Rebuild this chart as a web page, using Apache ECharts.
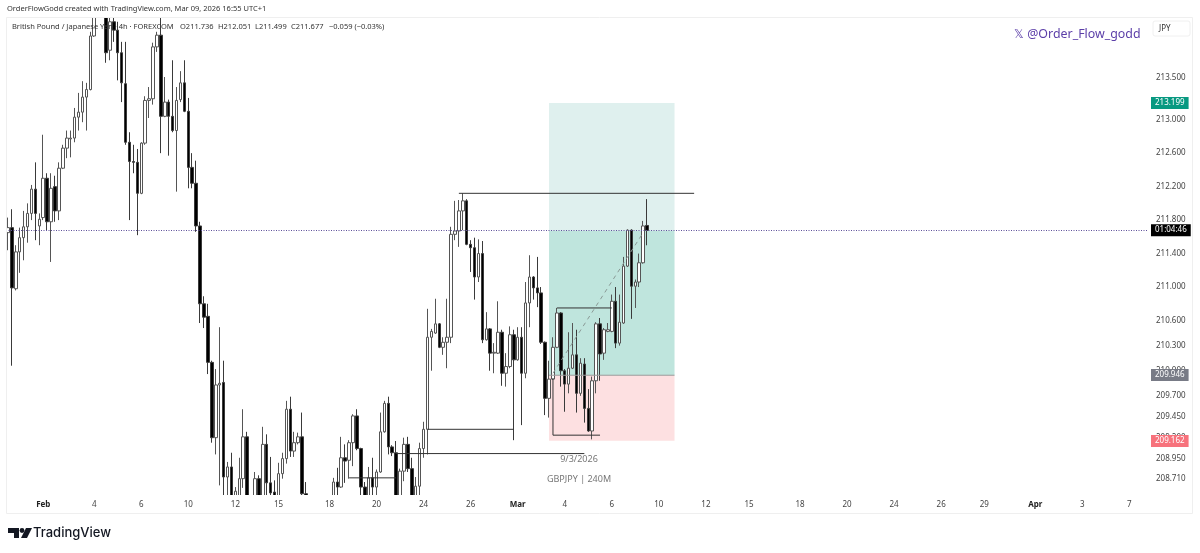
<!DOCTYPE html>
<html>
<head>
<meta charset="utf-8">
<title>GBPJPY 4h</title>
<script src="https://cdn.jsdelivr.net/npm/echarts@6/dist/echarts.min.js"></script>
<style>
  html, body { margin: 0; padding: 0; background: #fff; }
  #chart { width: 1200px; height: 553px; }
</style>
</head>
<body>
<div id="chart"></div>
<script>
// candles: open, close, low, high (some run outside the visible range)
var opens = [211.65,211.71,210.98,211.42,211.59,211.72,211.88,212.17,211.73,211.83,212.30,211.78,212.20,211.91,212.42,212.66,212.77,212.78,213.03,213.09,213.27,213.36,214.00,214.26,214.42,214.29,213.83,214.17,214.07,213.80,213.43,212.73,212.50,212.49,212.12,212.72,213.23,213.25,213.87,214.01,213.04,213.21,213.04,212.87,213.24,213.44,213.10,212.43,212.24,211.73,210.80,210.65,210.10,209.20,209.83,209.86,208.73,208.85,208.42,208.50,208.71,209.21,208.45,208.30,208.71,208.40,209.12,208.66,208.55,208.48,208.77,208.95,209.54,209.04,209.14,209.21,208.53,208.49,208.30,208.20,208.10,208.22,208.30,208.45,208.67,208.61,208.96,208.93,209.14,209.46,209.07,208.61,208.46,208.72,208.61,208.79,209.27,209.61,209.09,209.02,208.46,208.80,209.12,208.83,208.46,208.62,209.07,209.30,210.40,210.45,210.56,210.28,210.34,210.40,211.63,211.67,211.91,212.03,211.51,211.47,211.12,211.40,210.37,210.50,210.21,210.21,210.46,209.97,210.05,210.43,210.13,210.40,209.97,210.81,211.12,210.99,210.93,210.34,209.67,209.90,210.28,210.69,210.00,209.84,210.03,210.19,209.73,210.08,209.55,209.28,209.88,210.56,210.21,210.47,210.47,210.83,210.33,210.57,211.25,211.68,211.01,211.06,211.29,211.736];
var closes = [211.71,210.99,211.42,211.59,211.72,211.88,212.17,211.88,211.81,212.30,211.78,212.18,211.91,212.42,212.66,212.78,212.78,213.03,213.09,213.27,213.36,214.00,214.26,214.42,214.29,213.80,214.17,214.07,213.80,213.44,212.73,212.50,212.49,212.12,212.72,213.23,213.25,213.87,214.01,213.04,213.21,213.04,212.87,213.23,213.44,213.10,212.43,212.24,211.73,210.80,210.64,210.10,209.20,209.83,209.85,208.73,208.85,208.42,208.56,208.71,209.21,208.45,208.30,208.71,208.40,209.12,208.66,208.54,208.48,208.77,208.95,209.54,209.04,209.14,209.21,208.53,208.49,208.30,208.20,208.10,208.22,208.30,208.45,208.67,208.61,208.96,208.92,209.14,209.46,209.07,208.61,208.46,208.72,208.61,208.79,209.27,209.61,209.09,209.02,208.46,208.80,209.12,208.83,208.46,208.62,209.07,209.30,210.40,210.47,210.56,210.28,210.34,210.40,211.63,211.67,211.91,212.03,211.51,211.47,211.12,211.40,210.37,210.50,210.21,210.22,210.46,209.97,210.05,210.43,210.13,210.40,209.97,210.81,211.12,210.99,210.93,210.34,209.67,209.90,210.28,210.69,210.00,209.84,210.03,210.19,209.73,210.09,209.55,209.28,209.88,210.56,210.20,210.49,210.49,210.83,210.33,210.58,211.25,211.68,211.01,211.06,211.29,211.73,211.677];
var lows = [211.44,210.06,210.96,211.17,211.32,211.53,211.80,211.56,211.50,211.80,211.68,211.30,211.78,211.80,212.41,212.54,212.55,212.73,212.87,212.97,212.87,213.35,213.99,214.25,214.26,213.68,213.71,213.93,213.47,213.21,212.70,211.80,212.36,211.62,212.11,212.70,213.02,213.18,213.81,212.60,213.03,212.57,212.85,212.14,213.21,213.09,212.18,212.18,211.66,210.57,210.51,209.96,209.14,209.00,208.63,208.45,208.48,208.30,208.35,208.40,208.60,208.35,208.20,208.25,208.35,208.35,208.45,208.45,208.40,208.40,208.71,208.89,208.97,208.97,209.12,208.45,208.44,208.20,208.10,208.02,208.05,208.15,208.25,208.40,208.45,208.60,208.66,208.71,208.86,209.05,208.45,208.40,208.40,208.45,208.45,208.78,209.26,209.00,208.98,208.40,208.40,208.68,208.79,208.38,208.40,208.45,208.96,209.00,210.00,210.44,210.27,210.19,210.03,210.33,211.56,211.48,211.68,211.50,211.18,210.85,211.06,210.33,210.36,210.00,209.97,210.20,209.82,209.81,210.03,209.17,210.12,209.35,209.91,210.52,210.85,210.76,210.32,209.47,209.44,209.89,210.27,209.81,209.51,209.73,210.02,209.50,209.70,209.38,209.27,209.18,209.73,209.88,210.13,210.46,210.46,210.27,210.30,210.56,211.24,210.62,210.75,211.00,211.28,211.499];
var highs = [211.83,211.93,211.50,211.71,211.91,212.00,212.22,212.49,211.88,212.82,212.36,212.36,212.33,212.49,212.70,212.87,212.87,213.14,213.32,213.46,213.44,214.05,214.35,214.50,214.50,214.35,214.25,214.25,214.17,213.93,213.93,212.85,212.70,212.65,212.73,213.28,213.39,213.92,214.05,214.22,213.51,213.24,213.71,213.39,213.58,213.71,213.26,212.60,212.51,211.78,210.89,210.80,210.12,210.02,210.52,210.12,208.91,209.02,208.61,208.96,209.54,209.27,208.50,208.79,208.75,209.33,209.24,208.97,208.69,208.90,209.02,209.64,209.69,209.27,209.26,209.50,208.67,208.50,208.35,208.28,208.30,208.38,208.50,208.72,208.84,209.21,209.12,209.17,209.48,209.54,209.08,208.67,208.85,208.96,208.82,209.50,209.64,209.69,209.11,209.16,208.83,209.20,209.21,208.96,208.73,209.14,209.39,210.74,210.50,210.86,210.57,210.40,210.86,211.72,212.03,212.04,212.12,212.05,211.56,211.59,211.57,211.55,210.70,210.51,210.33,210.83,210.49,210.21,210.53,210.49,210.52,210.52,211.06,211.38,211.13,211.36,211.00,210.35,210.12,210.40,210.75,210.70,210.02,210.46,210.57,210.49,210.15,210.15,209.78,209.93,210.58,210.63,210.51,210.57,210.91,211.00,210.91,211.36,211.69,211.69,211.09,211.40,211.79,212.051];

// time axis: 4h bars, future bars stay empty
var barCount = 291;
var tickBars = [9,22,34,46,58,69,82,94,106,118,130,142,154,166,178,189,202,214,226,238,249,262,274,286];
var tickTexts = ['Feb','4','6','10','12','15','18','20','24','26','Mar','4','6','10','12','15','18','20','24','26','29','Apr','3','7'];
var monthTexts = ['Feb','Mar','Apr'];
var priceTicks = [213.5,213,212.6,212.2,211.8,211.4,211,210.6,210.3,210,209.7,209.45,209.2,208.95,208.71];

var lastPrice = 211.677, targetPrice = 213.199, entryPrice = 209.946, stopPrice = 209.162;
var boxStart = 138, boxEnd = 170;

// drawn lines: [bar, price] pairs
var levelLines = [
  [[115,212.12],[175,212.12]],
  [[140,210.75],[154,210.75]],
  [[139,209.91],[139,209.23],[151,209.23]],
  [[107,209.30],[129,209.30]],
  [[99,209.01],[147,209.01]],
  [[87,208.72],[99,208.72]]
];
var entryLine = [[boxStart,entryPrice],[boxEnd,entryPrice]];
var pathLine = [[139,209.97],[162,211.65]];

var categories = [];
for (var i = 0; i < barCount; i++) categories.push(String(i));
var candles = opens.map(function (o, i) { return [o, closes[i], lows[i], highs[i]]; });

var uiFont = '"Noto Sans", sans-serif';

function priceTag(value, text, bg, color) {
  return {
    yAxis: value,
    lineStyle: { color: 'transparent', width: 0 },
    label: {
      show: true, position: 'end', distance: 4, formatter: text, color: color,
      backgroundColor: bg, padding: [2, 4, 2, 4], fontSize: 8, fontFamily: uiFont
    }
  };
}

function annotation(points, color, type, width) {
  return {
    type: 'line', data: points, showSymbol: false, silent: true, z: 4,
    connectNulls: true, clip: true,
    lineStyle: { color: color, width: width, type: type }
  };
}

var series = [{
  type: 'candlestick',
  data: candles,
  barWidth: 3,
  z: 3,
  clip: true,
  itemStyle: {
    color: '#ffffff', color0: '#000000',
    borderColor: '#555555', borderColor0: '#3a3a3a', borderWidth: 1
  },
  markArea: {
    silent: true,
    data: [
      [{ xAxis: boxStart, yAxis: targetPrice, itemStyle: { color: '#dff0ee' } }, { xAxis: boxEnd, yAxis: lastPrice }],
      [{ xAxis: boxStart, yAxis: lastPrice, itemStyle: { color: '#bfe5dd' } }, { xAxis: boxEnd, yAxis: entryPrice }],
      [{ xAxis: boxStart, yAxis: entryPrice, itemStyle: { color: '#fde0e1' } }, { xAxis: boxEnd, yAxis: stopPrice }]
    ]
  },
  markLine: {
    silent: true, symbol: 'none',
    data: [
      {
        yAxis: lastPrice,
        lineStyle: { color: '#5d4f9a', type: [1, 1.5], width: 1 },
        label: {
          show: true, position: 'end', distance: 4, formatter: '01:04:46', color: '#ffffff',
          backgroundColor: '#000000', padding: [2, 4, 2, 4], fontSize: 8, fontFamily: uiFont
        }
      },
      priceTag(targetPrice, '213.199', '#089981', '#ffffff'),
      priceTag(entryPrice, '209.946', '#787b86', '#ffffff'),
      priceTag(stopPrice, '209.162', '#f7727c', '#ffffff')
    ]
  }
}];
levelLines.forEach(function (l) { series.push(annotation(l, '#333333', 'solid', 1)); });
series.push(annotation(entryLine, '#9a9a9a', 'solid', 1));
series.push(annotation(pathLine, '#8a9a96', [4, 4], 1));

function headerText(x, y, text, size, color, extra) {
  var style = { x: x, y: y, text: text, fontSize: size, fill: color, fontFamily: uiFont, textVerticalAlign: 'middle' };
  for (var k in (extra || {})) style[k] = extra[k];
  return { type: 'text', z: 20, silent: true, style: style };
}

var option = {
  animation: false,
  backgroundColor: '#ffffff',
  grid: { left: 6, right: 53, top: 17, bottom: 58 },
  xAxis: {
    type: 'category',
    data: categories,
    boundaryGap: true,
    z: 30,
    axisLine: { show: false },
    axisTick: { show: false },
    splitLine: { show: false },
    axisLabel: {
      interval: 0, margin: 6, fontSize: 8, color: '#444444', fontFamily: uiFont,
      formatter: function (v) {
        var at = tickBars.indexOf(Number(v));
        if (at < 0) return '';
        var t = tickTexts[at];
        return monthTexts.indexOf(t) >= 0 ? '{m|' + t + '}' : t;
      },
      rich: { m: { fontWeight: 'bold', fontSize: 8, color: '#222222', fontFamily: uiFont } }
    }
  },
  yAxis: {
    type: 'value',
    position: 'right',
    min: 208.515,
    max: 214.227,
    scale: true,
    axisLine: { show: false },
    axisTick: { show: false },
    splitLine: { show: false },
    axisLabel: {
      customValues: priceTicks, margin: 9, fontSize: 8, color: '#444444', fontFamily: uiFont,
      formatter: function (v) { return v.toFixed(3); }
    }
  },
  series: series,
  graphic: [
    // candles leaving the price range are cut at the pane edges
    { type: 'rect', z: 10, silent: true, shape: { x: 0, y: 0, width: 1200, height: 17 }, style: { fill: '#ffffff' } },
    { type: 'rect', z: 10, silent: true, shape: { x: 0, y: 495, width: 1200, height: 58 }, style: { fill: '#ffffff' } },
    { type: 'rect', z: 11, silent: true, shape: { x: 6.5, y: 17.5, width: 1186, height: 496 }, style: { fill: 'none', stroke: '#efefef', lineWidth: 1 } },
    headerText(7, 9, 'OrderFlowGodd created with TradingView.com, Mar 09, 2026 16:55 UTC+1', 7.5, '#333333'),
    headerText(12, 27, 'British Pound / Japanese Yen · 4h · FOREXCOM', 7.5, '#333333'),
    headerText(180, 27, 'O211.736', 7.5, '#333333'),
    headerText(218, 27, 'H212.051', 7.5, '#333333'),
    headerText(255, 27, 'L211.499', 7.5, '#333333'),
    headerText(291, 27, 'C211.677', 7.5, '#333333'),
    headerText(329, 27, '−0.059 (−0.03%)', 7.5, '#333333'),
    headerText(1014, 34, '𝕏 @Order_Flow_godd', 12.4, '#5b3ea8'),
    { type: 'rect', z: 20, silent: true, shape: { x: 1153, y: 21, width: 37, height: 15, r: 2 }, style: { fill: '#ffffff', stroke: '#f0f0f0' } },
    headerText(1159, 29, 'JPY', 8, '#333333'),
    headerText(579, 459, '9/3/2026', 9, '#777777', { textAlign: 'center' }),
    headerText(579, 479, 'GBPJPY | 240M', 9, '#777777', { textAlign: 'center' }),
    { type: 'polygon', z: 20, silent: true, shape: { points: [[8,528],[19,528],[19,538],[14,538],[14,533],[8,533]] }, style: { fill: '#131722' } },
    { type: 'circle', z: 20, silent: true, shape: { cx: 22, cy: 530.5, r: 2.4 }, style: { fill: '#131722' } },
    { type: 'polygon', z: 20, silent: true, shape: { points: [[26,528],[32,528],[27,538],[21,538]] }, style: { fill: '#131722' } },
    headerText(33, 533, 'TradingView', 13, '#131722', { fontFamily: 'Inter, "Noto Sans", sans-serif', fontWeight: 500 })
  ]
};

var chart = echarts.init(document.getElementById('chart'), null, { renderer: 'canvas' });
chart.setOption(option);
</script>
</body>
</html>
